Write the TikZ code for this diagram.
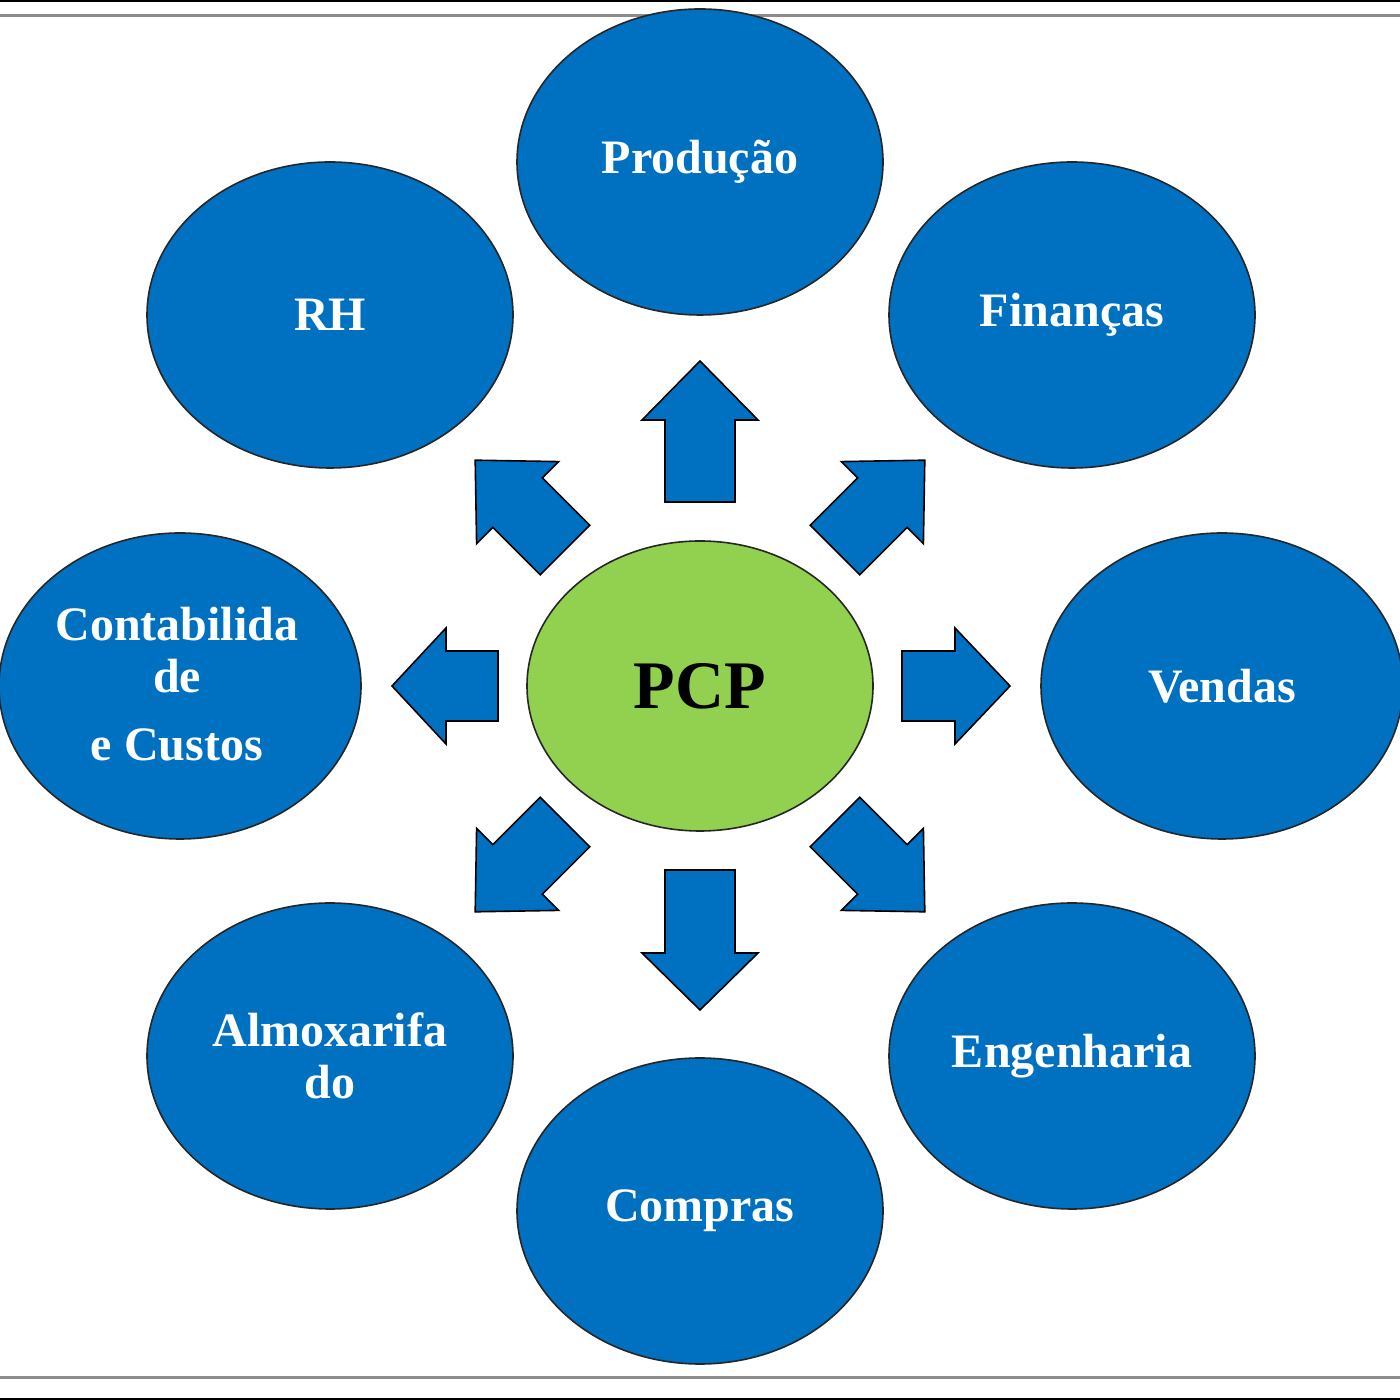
\documentclass[tikz,border=0pt]{standalone}
\usepackage{fontspec}
\setmainfont{Liberation Serif}
\usetikzlibrary{shapes.geometric}
\definecolor{dept}{HTML}{0070C0}
\definecolor{core}{HTML}{92D050}
\tikzset{
  depttext/.style={text=white, font=\fontsize{48}{52}\selectfont\bfseries, align=center},
  dept/.style={ellipse, draw=black!85, line width=1.6pt, fill=dept,
    minimum width=366pt, minimum height=306pt, inner sep=0pt, depttext},
  corenode/.style={ellipse, draw=black!85, line width=1.6pt, fill=core,
    minimum width=346pt, minimum height=290pt, inner sep=0pt,
    font=\fontsize{68}{72}\selectfont\bfseries},
  blockarrow/.style={draw=black, line width=1.6pt, fill=dept, line join=miter}
}
\newcommand\blockarr[5]{%
  \begin{scope}[shift={(#1,#2)},rotate=#3]
    \draw[blockarrow] (0,-35) -- (#4,-35) -- (#4,-58) -- ({#4+#5},0) -- (#4,58) -- (#4,35) -- (0,35) -- cycle;
  \end{scope}}
\begin{document}
\begin{tikzpicture}[x=1pt,y=1pt]
  \useasboundingbox (0,0) rectangle (1400,1400);
  \fill[white] (0,0) rectangle (1400,1400);
  % frame lines
  \draw[black, line width=2.5pt] (0,1399) -- (1400,1399);
  \draw[black!45, line width=3pt] (0,1384) -- (1400,1384);
  \draw[black!45, line width=3pt] (0,22) -- (1400,22);
  \draw[black, line width=2.5pt] (0,1) -- (1400,1);
  % departments
  \node[dept] (prod) at (700,1238) {Produção};
  \node[dept] (rh) at (330,1085) {RH};
  \node[dept] (fin) at (1072,1085) {Finanças};
  \node[dept, minimum width=362pt] (cont) at (180,714) {};
  \node[depttext] (contt) at (177,716) {Contabilida\\de\\[16pt]e Custos};
  \node[dept, minimum width=362pt] (vend) at (1222,714) {Vendas};
  \node[dept] (almo) at (330,344) {Almoxarifa\\do};
  \node[dept] (eng) at (1072,344) {Engenharia};
  \node[dept] (comp) at (700,189) {Compras};
  % center
  \node[corenode] (pcp) at (700,714) {PCP};
  % block arrows
  \blockarr{700}{898}{90}{82}{59}
  \blockarr{700}{530}{-90}{83}{57}
  \blockarr{498}{714}{180}{52}{54}
  \blockarr{902}{714}{0}{53}{55}
  \blockarr{565}{850}{135}{67}{60}
  \blockarr{835}{850}{45}{67}{60}
  \blockarr{565}{578}{225}{67}{60}
  \blockarr{835}{578}{-45}{67}{60}
\end{tikzpicture}
\end{document}
